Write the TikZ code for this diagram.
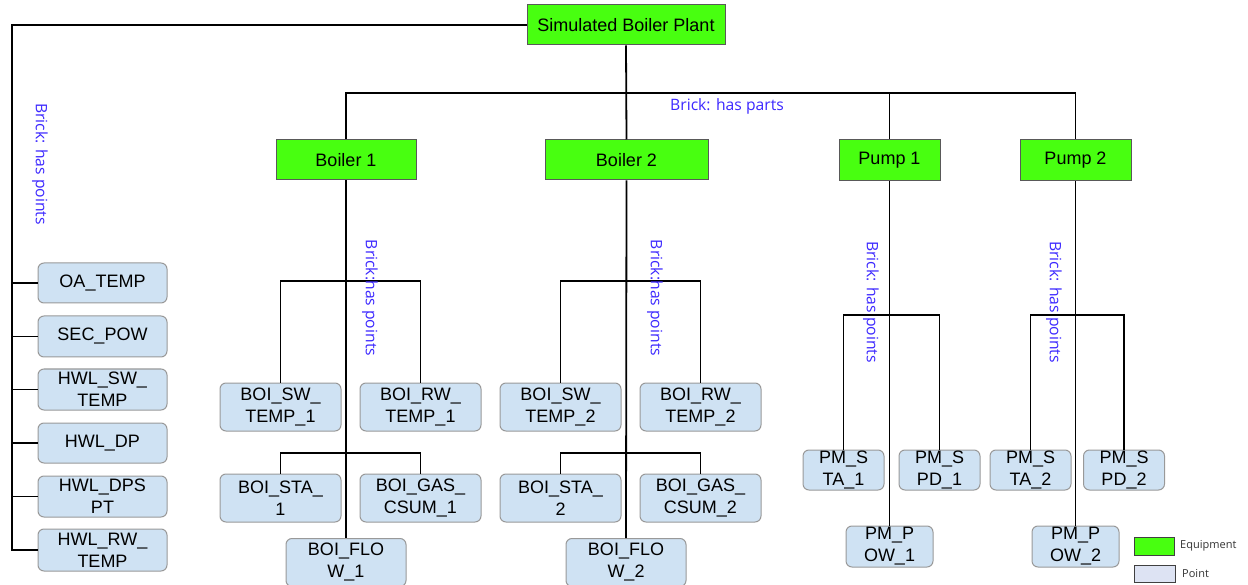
\documentclass[tikz,border=0pt]{standalone}
\usepackage{fontspec}
\setmainfont{Liberation Sans}
\newfontfamily\lblfont{Open Sans}
\definecolor{eqgreen}{RGB}{72,255,16}
\definecolor{ptblue}{RGB}{207,226,243}
\definecolor{lgpt}{RGB}{221,227,243}
\definecolor{brickblue}{RGB}{60,40,255}
\begin{document}
\begin{tikzpicture}[x=1pt,y=-1pt,
  equip/.style={draw=black!65,line width=1pt,fill=eqgreen,inner sep=0pt,align=center,font=\fontsize{18}{22}\selectfont},
  pt/.style={draw=black!40,line width=1pt,fill=ptblue,rounded corners=6pt,inner sep=0pt,align=center,font=\fontsize{18}{22}\selectfont},
  thk/.style={line width=1.8pt},
  thn/.style={line width=1.4pt},
  brick/.style={text=brickblue,font=\lblfont\fontsize{15.7}{18}\selectfont,inner sep=0pt},
  lgd/.style={text=black!80,font=\lblfont\fontsize{11}{13}\selectfont,inner sep=0pt,anchor=west}]
\useasboundingbox (0,0) rectangle (1248,585);
\clip (0,0) rectangle (1248,585);
\coordinate (spine) at (12,0);
\coordinate (bus) at (0,93);
\coordinate (h1) at (0,281);
\coordinate (h2) at (0,453);
\coordinate (hp) at (0,315);
% equipment
\node[equip,minimum width=198,minimum height=40] (root) at (626,25) {Simulated Boiler Plant};
\node[equip,minimum width=140,minimum height=40] (b1) at (346,160) {Boiler 1};
\node[equip,minimum width=163,minimum height=40] (b2) at (626.5,160) {Boiler 2};
\node[equip,minimum width=101,minimum height=41] (p1) at (889.5,160.5) {Pump 1};
\node[equip,minimum width=111,minimum height=41] (p2) at (1075.5,160.5) {Pump 2};
% left points
\node[pt,minimum width=129,minimum height=40] (l1) at (102.5,283) {OA\_TEMP};
\node[pt,minimum width=129,minimum height=41] (l2) at (102.5,336.5) {SEC\_POW};
\node[pt,minimum width=129,minimum height=41] (l3) at (102.5,389.5) {HWL\_SW\_\\TEMP};
\node[pt,minimum width=129,minimum height=40] (l4) at (102.5,443) {HWL\_DP};
\node[pt,minimum width=129,minimum height=41] (l5) at (102.5,496.5) {HWL\_DPS\\PT};
\node[pt,minimum width=129,minimum height=42] (l6) at (102.5,550) {HWL\_RW\_\\TEMP};
% boiler 1 points
\node[pt,minimum width=121,minimum height=48] (sw1) at (280.5,407) {BOI\_SW\_\\TEMP\_1};
\node[pt,minimum width=121,minimum height=48] (rw1) at (420.5,407) {BOI\_RW\_\\TEMP\_1};
\node[pt,minimum width=121,minimum height=48] (st1) at (280.5,498) {BOI\_STA\_\\1};
\node[pt,minimum width=121,minimum height=48] (gs1) at (420.5,498) {BOI\_GAS\_\\CSUM\_1};
\node[pt,minimum width=120,minimum height=48,anchor=north] (fl1) at (346,538) {BOI\_FLO\\W\_1};
% boiler 2 points
\node[pt,minimum width=121,minimum height=48] (sw2) at (560.5,407) {BOI\_SW\_\\TEMP\_2};
\node[pt,minimum width=121,minimum height=48] (rw2) at (700.5,407) {BOI\_RW\_\\TEMP\_2};
\node[pt,minimum width=121,minimum height=48] (st2) at (560.5,498) {BOI\_STA\_\\2};
\node[pt,minimum width=121,minimum height=48] (gs2) at (700.5,498) {BOI\_GAS\_\\CSUM\_2};
\node[pt,minimum width=120,minimum height=48,anchor=north] (fl2) at (626,538) {BOI\_FLO\\W\_2};
% pump points
\node[pt,minimum width=81,minimum height=40] (sta1) at (843.5,470) {PM\_S\\TA\_1};
\node[pt,minimum width=81,minimum height=40] (spd1) at (939.5,470) {PM\_S\\PD\_1};
\node[pt,minimum width=87,minimum height=41] (pow1) at (889.5,546.5) {PM\_P\\OW\_1};
\node[pt,minimum width=81,minimum height=40] (sta2) at (1030.5,470) {PM\_S\\TA\_2};
\node[pt,minimum width=81,minimum height=40] (spd2) at (1124,470) {PM\_S\\PD\_2};
\node[pt,minimum width=87,minimum height=41] (pow2) at (1075.5,546.5) {PM\_P\\OW\_2};
% connectors
\draw[thk] (root.west) -- (root.west -| spine) -- (l6.west -| spine) -- (l6.west);
\foreach \n in {l1,l2,l3,l4,l5} \draw[thn] (\n.west -| spine) -- (\n.west);
\draw[thk] (root.south) -- (b2.north);
\draw[thn] (b1.north) -- (b1.north |- bus) -- (p2.north |- bus) -- (p2.north);
\draw[thn] (p1.north |- bus) -- (p1.north);
% boiler 1
\draw[thk] (b1.south) -- (fl1.north);
\draw[thn] (sw1.north) -- (sw1.north |- h1) -- (rw1.north |- h1) -- (rw1.north);
\draw[thn] (st1.north) -- (st1.north |- h2) -- (gs1.north |- h2) -- (gs1.north);
% boiler 2
\draw[thk] (b2.south) -- (fl2.north);
\draw[thn] (sw2.north) -- (sw2.north |- h1) -- (rw2.north |- h1) -- (rw2.north);
\draw[thn] (st2.north) -- (st2.north |- h2) -- (gs2.north |- h2) -- (gs2.north);
% pumps
\draw[thn] (p1.south) -- (pow1.north);
\draw[thn] (sta1.north) -- (sta1.north |- hp) -- (spd1.north |- hp) -- (spd1.north);
\draw[thn] (p2.south) -- (pow2.north);
\draw[thn] (sta2.north) -- (sta2.north |- hp) -- (spd2.north |- hp) -- (spd2.north);
% labels
\node[brick,anchor=west] (lparts) at (670,106) {Brick: has parts};
\node[brick,rotate=-90] (lleft) at (40,164) {Brick: has points};
\node[brick,rotate=-90] (lb1) at (370,298) {Brick:has points};
\node[brick,rotate=-90] (lb2) at (655,298) {Brick:has points};
\node[brick,rotate=-90] (lp1) at (871,302) {Brick: has points};
\node[brick,rotate=-90] (lp2) at (1054,302) {Brick: has points};
% legend
\node[draw=black!75,line width=1pt,fill=eqgreen,minimum width=40,minimum height=18,inner sep=0pt] (leq) at (1154,546) {};
\node[lgd] (teq) at (1180,546) {Equipment};
\node[draw=black!75,line width=1pt,fill=lgpt,minimum width=41,minimum height=17,inner sep=0pt] (lpt) at (1154.5,573.5) {};
\node[lgd] (tpt) at (1182,573.5) {Point};
\end{tikzpicture}
\end{document}
